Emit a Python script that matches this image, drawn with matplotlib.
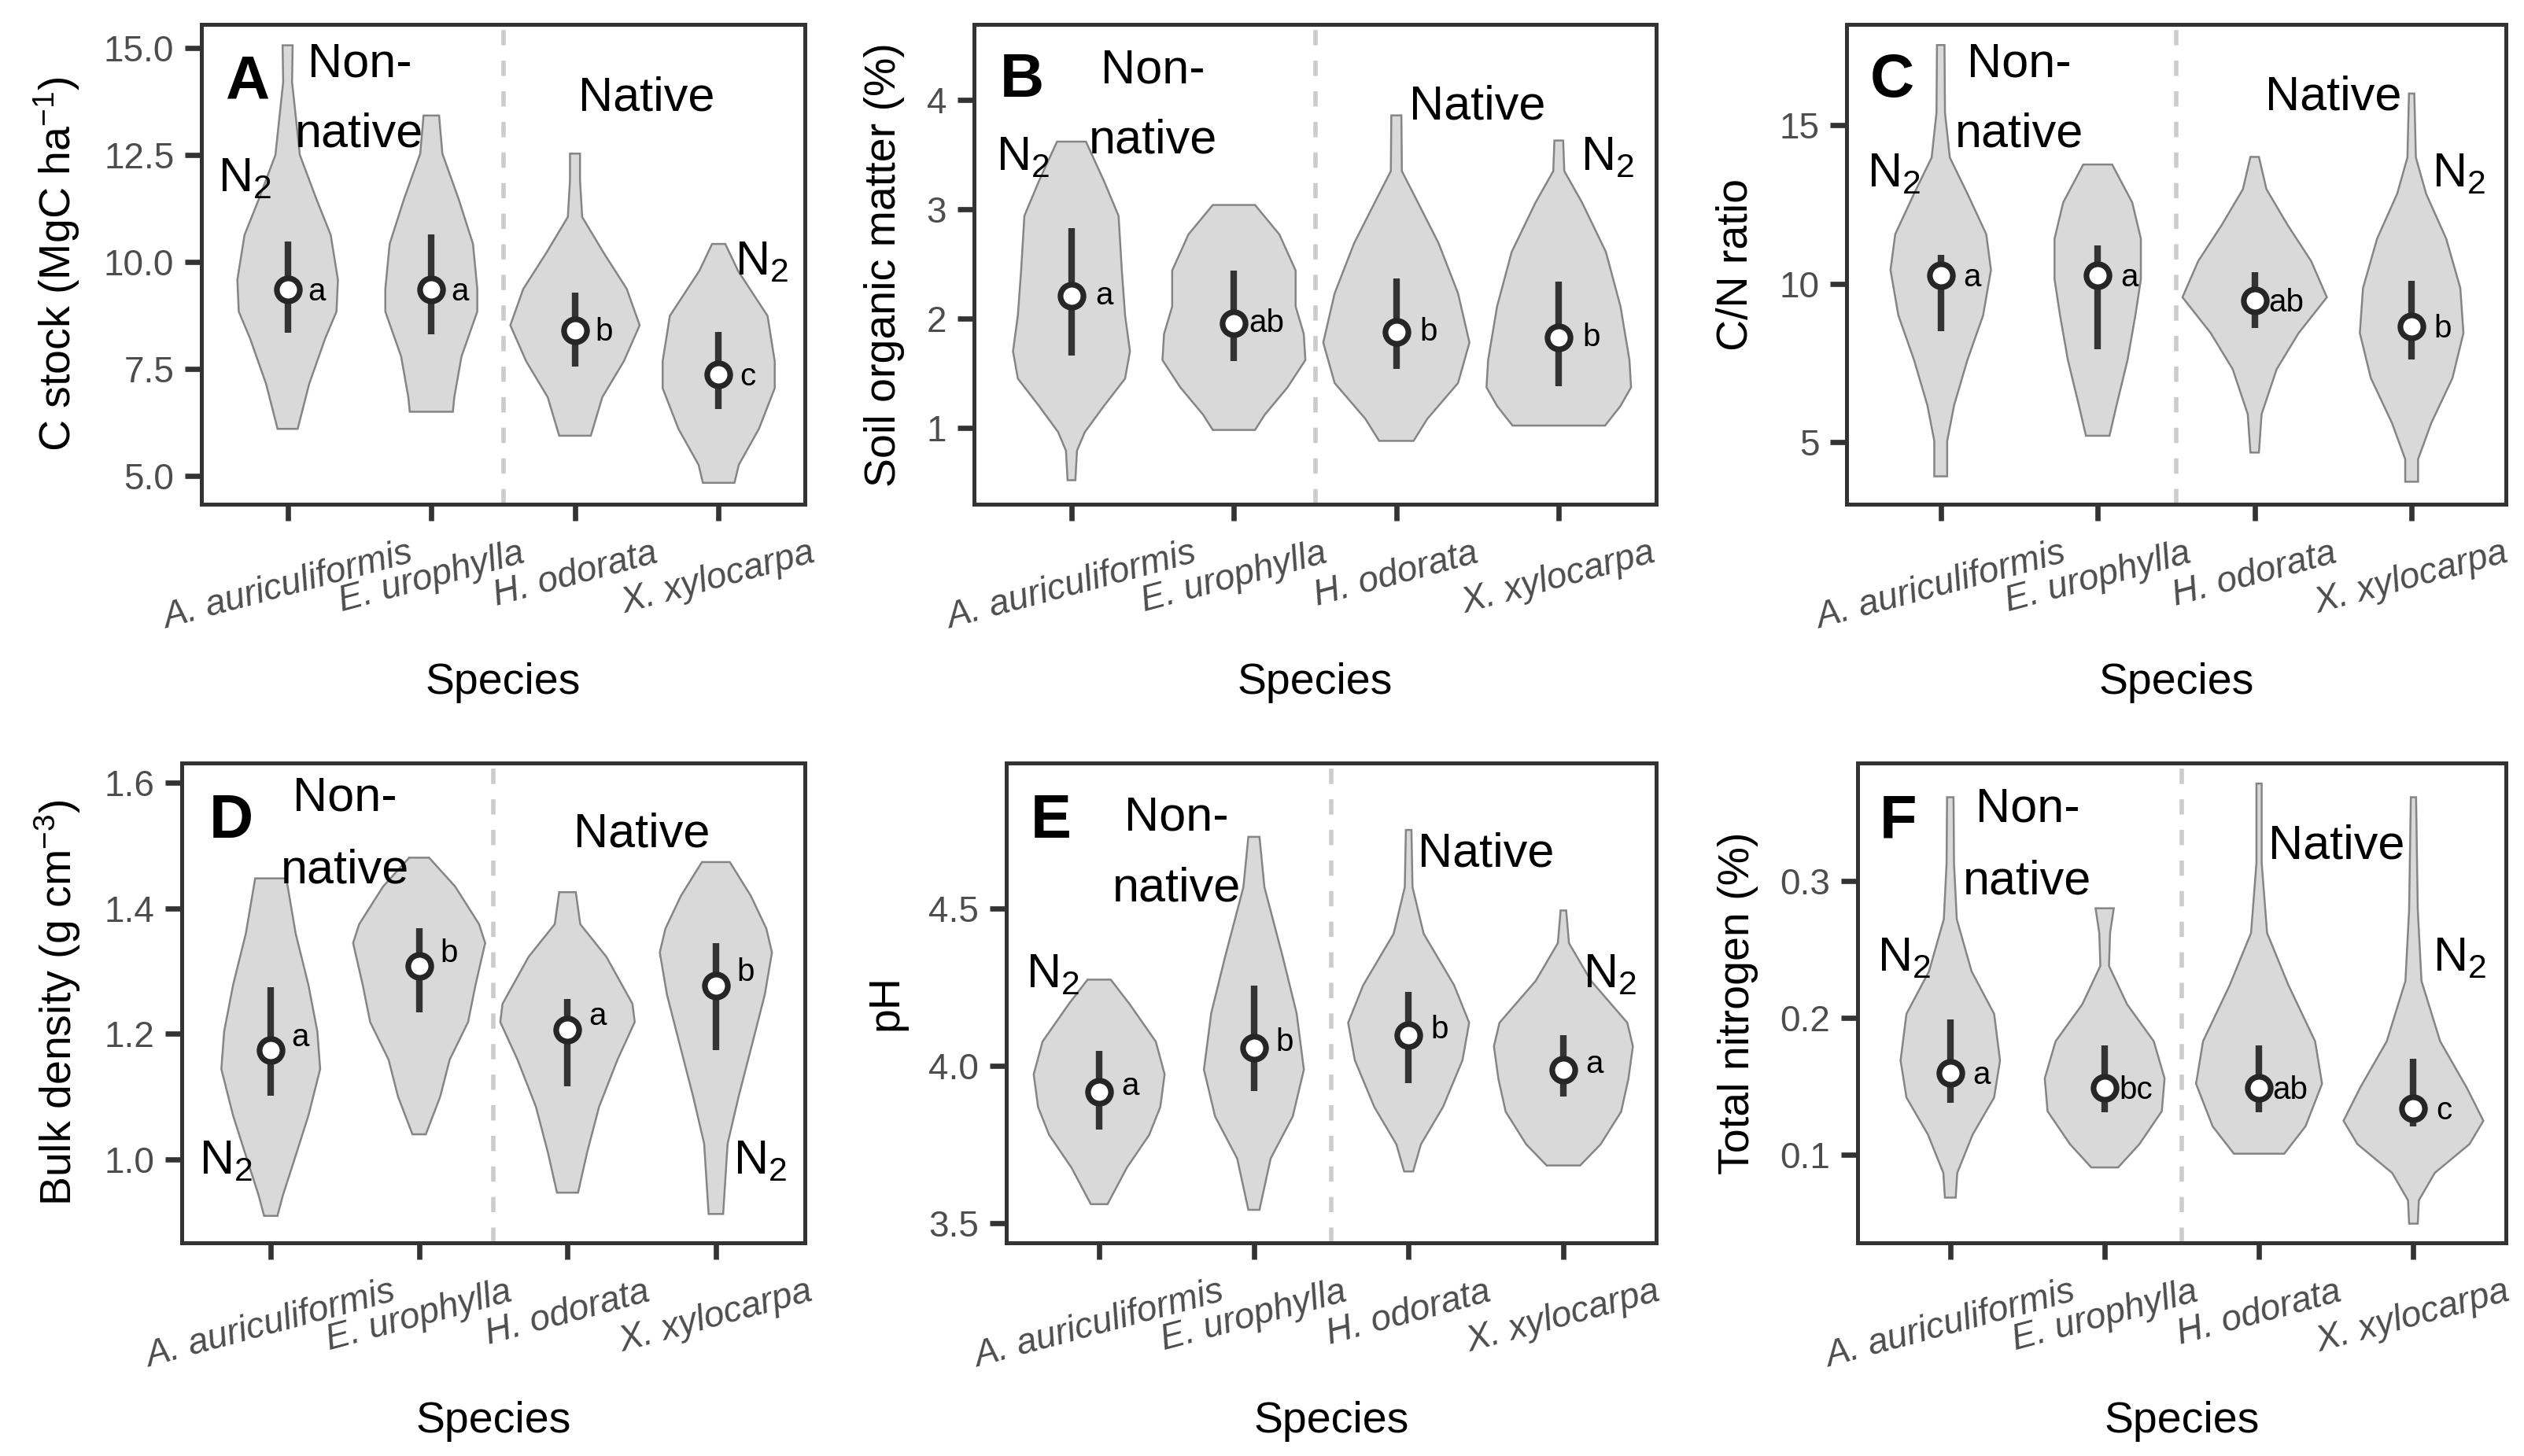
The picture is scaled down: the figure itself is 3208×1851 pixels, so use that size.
# Violin plots of soil properties under four plantation species (panels A-F).

import matplotlib
matplotlib.use('Agg')
import matplotlib.pyplot as plt
import matplotlib.transforms as mtransforms

plt.rcParams['font.family'] = ['Liberation Sans', 'DejaVu Sans']
plt.rcParams['mathtext.fontset'] = 'custom'
plt.rcParams['mathtext.rm'] = 'Liberation Sans'
plt.rcParams['mathtext.it'] = 'Liberation Sans:italic'
plt.rcParams['mathtext.bf'] = 'Liberation Sans:bold'

species = ['A. auriculiformis', 'E. urophylla', 'H. odorata', 'X. xylocarpa']

# ---- A: C stock ----
cs_mean = [9.35, 9.35, 8.41, 7.37]
cs_lo = [8.34, 8.31, 7.55, 6.56]
cs_hi = [10.47, 10.65, 9.28, 8.37]
cs_sig = ['a', 'a', 'b', 'c']
cs_vy = [[15.06, 14.2, 12.5, 11.47, 10.63, 9.58, 8.84, 8.2, 7.15, 6.1],
         [13.42, 12.53, 11.47, 10.42, 9.37, 8.84, 7.79, 6.84, 6.5],
         [12.53, 11.9, 11.05, 10.21, 9.37, 8.52, 7.68, 6.84, 5.94],
         [10.42, 9.79, 8.74, 7.68, 7.05, 6.1, 5.26, 4.84]]
cs_vw = [[0.035, 0.031, 0.085, 0.20, 0.30, 0.35, 0.34, 0.26, 0.15, 0.07],
         [0.054, 0.077, 0.19, 0.29, 0.32, 0.32, 0.21, 0.16, 0.15],
         [0.035, 0.035, 0.05, 0.20, 0.36, 0.45, 0.34, 0.19, 0.11],
         [0.046, 0.135, 0.34, 0.39, 0.39, 0.28, 0.14, 0.11]]
cs_ticks = [5.0, 7.5, 10.0, 12.5, 15.0]
cs_ticklabels = ['5.0', '7.5', '10.0', '12.5', '15.0']

# ---- B: Soil organic matter ----
som_mean = [2.21, 1.96, 1.88, 1.83]
som_lo = [1.66, 1.61, 1.54, 1.38]
som_hi = [2.83, 2.44, 2.37, 2.34]
som_sig = ['a', 'ab', 'b', 'b']
som_vy = [[3.62, 3.26, 2.94, 2.44, 2.03, 1.70, 1.45, 1.20, 0.96, 0.79, 0.52],
          [3.04, 2.77, 2.44, 2.11, 1.86, 1.62, 1.37, 1.12, 0.98],
          [3.86, 3.35, 3.10, 2.69, 2.23, 1.78, 1.41, 1.08, 0.88],
          [3.63, 3.35, 3.06, 2.61, 2.11, 1.62, 1.37, 1.20, 1.02]]
som_vw = [[0.089, 0.20, 0.29, 0.31, 0.33, 0.36, 0.33, 0.20, 0.082, 0.034, 0.024],
          [0.13, 0.28, 0.38, 0.38, 0.43, 0.44, 0.33, 0.19, 0.13],
          [0.031, 0.034, 0.12, 0.26, 0.38, 0.45, 0.38, 0.19, 0.106],
          [0.027, 0.034, 0.144, 0.29, 0.38, 0.435, 0.445, 0.38, 0.285]]
som_ticks = [1, 2, 3, 4]
som_ticklabels = ['1', '2', '3', '4']

# ---- C: C/N ratio ----
cn_mean = [10.26, 10.26, 9.46, 8.65]
cn_lo = [8.51, 7.94, 8.61, 7.61]
cn_hi = [10.92, 11.21, 10.36, 10.1]
cn_sig = ['a', 'a', 'ab', 'b']
cn_vy = [[17.53, 15.4, 13.98, 12.84, 11.56, 10.43, 9.0, 7.59, 6.16, 5.03, 3.92],
         [13.76, 12.56, 11.42, 10.14, 9.0, 7.59, 6.16, 5.2],
         [14.0, 12.98, 11.85, 10.71, 9.57, 8.44, 7.3, 5.88, 4.67],
         [16.0, 13.98, 12.84, 11.42, 9.86, 8.44, 7.02, 5.6, 4.46, 3.75]]
cn_vw = [[0.024, 0.027, 0.058, 0.17, 0.29, 0.32, 0.27, 0.17, 0.085, 0.041, 0.041],
         [0.092, 0.22, 0.275, 0.275, 0.24, 0.19, 0.12, 0.075],
         [0.027, 0.075, 0.21, 0.36, 0.46, 0.28, 0.14, 0.044, 0.027],
         [0.017, 0.027, 0.092, 0.22, 0.31, 0.33, 0.26, 0.125, 0.041, 0.041]]
cn_ticks = [5, 10, 15]
cn_ticklabels = ['5', '10', '15']

# ---- D: Bulk density ----
bd_mean = [1.174, 1.308, 1.207, 1.277]
bd_lo = [1.101, 1.234, 1.116, 1.174]
bd_hi = [1.275, 1.368, 1.256, 1.345]
bd_sig = ['a', 'b', 'a', 'b']
bd_vy = [[1.448, 1.36, 1.278, 1.204, 1.144, 1.07, 0.995, 0.943, 0.91],
         [1.481, 1.435, 1.375, 1.345, 1.278, 1.219, 1.159, 1.1, 1.04],
         [1.426, 1.375, 1.323, 1.248, 1.219, 1.159, 1.084, 1.01, 0.947],
         [1.474, 1.42, 1.368, 1.33, 1.263, 1.189, 1.1, 1.025, 0.913]]
bd_vw = [[0.105, 0.168, 0.254, 0.314, 0.333, 0.254, 0.153, 0.082, 0.045],
         [0.067, 0.243, 0.404, 0.445, 0.38, 0.33, 0.206, 0.142, 0.045],
         [0.056, 0.086, 0.262, 0.438, 0.453, 0.337, 0.213, 0.131, 0.071],
         [0.094, 0.236, 0.34, 0.378, 0.33, 0.25, 0.153, 0.079, 0.049]]
bd_ticks = [1.0, 1.2, 1.4, 1.6]
bd_ticklabels = ['1.0', '1.2', '1.4', '1.6']

# ---- E: pH ----
ph_mean = [3.918, 4.058, 4.097, 3.988]
ph_lo = [3.798, 3.921, 3.946, 3.902]
ph_hi = [4.048, 4.256, 4.234, 4.097]
ph_sig = ['a', 'b', 'b', 'a']
ph_vy = [[4.274, 4.196, 4.077, 3.973, 3.869, 3.78, 3.676, 3.56],
         [4.728, 4.568, 4.345, 4.167, 3.988, 3.839, 3.705, 3.542],
         [4.75, 4.568, 4.42, 4.256, 4.137, 4.018, 3.869, 3.75, 3.664],
         [4.494, 4.39, 4.27, 4.137, 4.062, 3.958, 3.854, 3.75, 3.683]]
ph_vw = [[0.075, 0.197, 0.366, 0.423, 0.395, 0.323, 0.179, 0.054],
         [0.036, 0.068, 0.187, 0.276, 0.323, 0.251, 0.108, 0.036],
         [0.018, 0.025, 0.097, 0.294, 0.391, 0.348, 0.222, 0.079, 0.029],
         [0.018, 0.036, 0.179, 0.413, 0.449, 0.42, 0.373, 0.24, 0.108]]
ph_ticks = [3.5, 4.0, 4.5]
ph_ticklabels = ['3.5', '4.0', '4.5']

# ---- F: Total nitrogen ----
tn_mean = [0.160, 0.149, 0.149, 0.134]
tn_lo = [0.138, 0.131, 0.131, 0.121]
tn_hi = [0.199, 0.180, 0.180, 0.170]
tn_sig = ['a', 'bc', 'ab', 'c']
tn_vy = [[0.361, 0.313, 0.272, 0.234, 0.203, 0.169, 0.142, 0.115, 0.087, 0.069],
         [0.280, 0.262, 0.238, 0.21, 0.183, 0.156, 0.132, 0.108, 0.091],
         [0.371, 0.313, 0.262, 0.224, 0.183, 0.152, 0.121, 0.101],
         [0.361, 0.279, 0.227, 0.183, 0.149, 0.125, 0.108, 0.087, 0.067, 0.050]]
tn_vw = [[0.021, 0.024, 0.042, 0.138, 0.284, 0.322, 0.284, 0.145, 0.045, 0.035],
         [0.059, 0.035, 0.028, 0.145, 0.318, 0.388, 0.37, 0.225, 0.087],
         [0.017, 0.017, 0.052, 0.19, 0.363, 0.408, 0.301, 0.163],
         [0.017, 0.028, 0.052, 0.173, 0.346, 0.453, 0.363, 0.138, 0.035, 0.028]]
tn_ticks = [0.1, 0.2, 0.3]
tn_ticklabels = ['0.1', '0.2', '0.3']


# Panel options: letter, data, y axis, axes rectangle, text heights (axes fraction).
panels = [
    dict(letter='A', vy=cs_vy, vw=cs_vw, mean=cs_mean, lo=cs_lo, hi=cs_hi, sig=cs_sig,
         ylabel='C stock (MgC ha$^{-1}$)', ticks=cs_ticks, ticklabels=cs_ticklabels,
         ylim=(4.34, 15.54), rect=[0.0798, 0.6537, 0.2391, 0.3293],
         let=(0.039, 0.845), non=0.892, nat=0.746, native=0.821, n2=(0.652, 0.478), dy=-1),
    dict(letter='B', vy=som_vy, vw=som_vw, mean=som_mean, lo=som_lo, hi=som_hi, sig=som_sig,
         ylabel='Soil organic matter (%)', ticks=som_ticks, ticklabels=som_ticklabels,
         ylim=(0.30, 4.69), rect=[0.3859, 0.6537, 0.2703, 0.3293],
         let=(0.038, 0.850), non=0.878, nat=0.732, native=0.803, n2=(0.697, 0.697), dy=0),
    dict(letter='C', vy=cn_vy, vw=cn_vw, mean=cn_mean, lo=cn_lo, hi=cn_hi, sig=cn_sig,
         ylabel='C/N ratio', ticks=cn_ticks, ticklabels=cn_ticklabels,
         ylim=(3.04, 18.17), rect=[0.7316, 0.6537, 0.2612, 0.3293],
         let=(0.036, 0.850), non=0.892, nat=0.746, native=0.822, n2=(0.662, 0.662), dy=-1),
    dict(letter='D', vy=bd_vy, vw=bd_vw, mean=bd_mean, lo=bd_lo, hi=bd_hi, sig=bd_sig,
         ylabel='Bulk density (g cm$^{-3}$)', ticks=bd_ticks, ticklabels=bd_ticklabels,
         ylim=(0.867, 1.632), rect=[0.0720, 0.1464, 0.2469, 0.3296],
         let=(0.044, 0.844), non=0.900, nat=0.750, native=0.825, n2=(0.143, 0.143), dy=6),
    dict(letter='E', vy=ph_vy, vw=ph_vw, mean=ph_mean, lo=ph_lo, hi=ph_hi, sig=ph_sig,
         ylabel='pH', ticks=ph_ticks, ticklabels=ph_ticklabels,
         ylim=(3.437, 4.963), rect=[0.3987, 0.1464, 0.2575, 0.3296],
         let=(0.037, 0.844), non=0.859, nat=0.712, native=0.785, n2=(0.532, 0.532), dy=2.5),
    dict(letter='F', vy=tn_vy, vw=tn_vw, mean=tn_mean, lo=tn_lo, hi=tn_hi, sig=tn_sig,
         ylabel='Total nitrogen (%)', ticks=tn_ticks, ticklabels=tn_ticklabels,
         ylim=(0.036, 0.386), rect=[0.7360, 0.1464, 0.2569, 0.3296],
         let=(0.033, 0.844), non=0.878, nat=0.727, native=0.800, n2=(0.566, 0.566), dy=-1),
]

dark = '#333333'
tickgrey = '#4d4d4d'

fig = plt.figure(figsize=(16.04, 9.255), dpi=200)

for p in panels:
    ax = fig.add_axes(p['rect'])
    xpos = list(range(len(species)))

    # Violins drawn from the read-off outline (y, half width) of each group.
    for i in xpos:
        ys = p['vy'][i]
        ws = p['vw'][i]
        xs = [i - w for w in ws] + [i + w for w in ws[::-1]]
        yy = ys + ys[::-1]
        ax.fill(xs, yy, facecolor='#d9d9d9', edgecolor='#858585', linewidth=0.9, zorder=2)

    # Separator between non-native and native species.
    ax.axvline(1.5, color='#cccccc', linewidth=2.0, dashes=(3.5, 3.5), zorder=1)

    ax.vlines(xpos, p['lo'], p['hi'], color=dark, linewidth=3.0, zorder=3)
    ax.plot(xpos, p['mean'], 'o', markersize=10.5, markerfacecolor='white',
            markeredgecolor='#262626', markeredgewidth=2.6, zorder=4)

    for i in xpos:
        ax.annotate(p['sig'][i], (i + 0.2, p['mean'][i]), xytext=(0, p['dy']),
                    textcoords='offset points', ha='center', va='center',
                    fontsize=14.5, zorder=5)

    # Group labels.
    trans = mtransforms.blended_transform_factory(ax.transData, ax.transAxes)
    ax.text(p['let'][0], p['let'][1], p['letter'], transform=ax.transAxes,
            fontsize=28, fontweight='bold', ha='left', va='baseline')
    ax.text(0.5, p['non'], 'Non-', transform=trans, fontsize=22, ha='center', va='baseline')
    ax.text(0.5, p['nat'], 'native', transform=trans, fontsize=22, ha='center', va='baseline')
    ax.text(2.5, p['native'], 'Native', transform=trans, fontsize=22, ha='center', va='baseline')
    ax.text(-0.3, p['n2'][0], 'N$_2$', transform=trans, fontsize=22, ha='center', va='baseline')
    ax.text(3.3, p['n2'][1], 'N$_2$', transform=trans, fontsize=22, ha='center', va='baseline')

    ax.set_xlim(-0.6, 3.6)
    ax.set_ylim(p['ylim'])
    ax.set_xticks(xpos)
    ax.set_xticklabels(species, rotation=15, ha='center', fontstyle='italic')
    ax.set_yticks(p['ticks'])
    ax.set_yticklabels(p['ticklabels'])
    ax.tick_params(axis='both', direction='out', length=7.5, width=2.4, color=dark,
                   labelcolor=tickgrey, labelsize=16.5, pad=5)
    ax.tick_params(axis='x', pad=7)
    for s in ax.spines.values():
        s.set_color(dark)
        s.set_linewidth(1.8)

    ax.set_xlabel('Species', fontsize=20, labelpad=12)
    ax.set_ylabel(p['ylabel'], fontsize=20, labelpad=10)

plt.savefig('out.png', dpi=200)
